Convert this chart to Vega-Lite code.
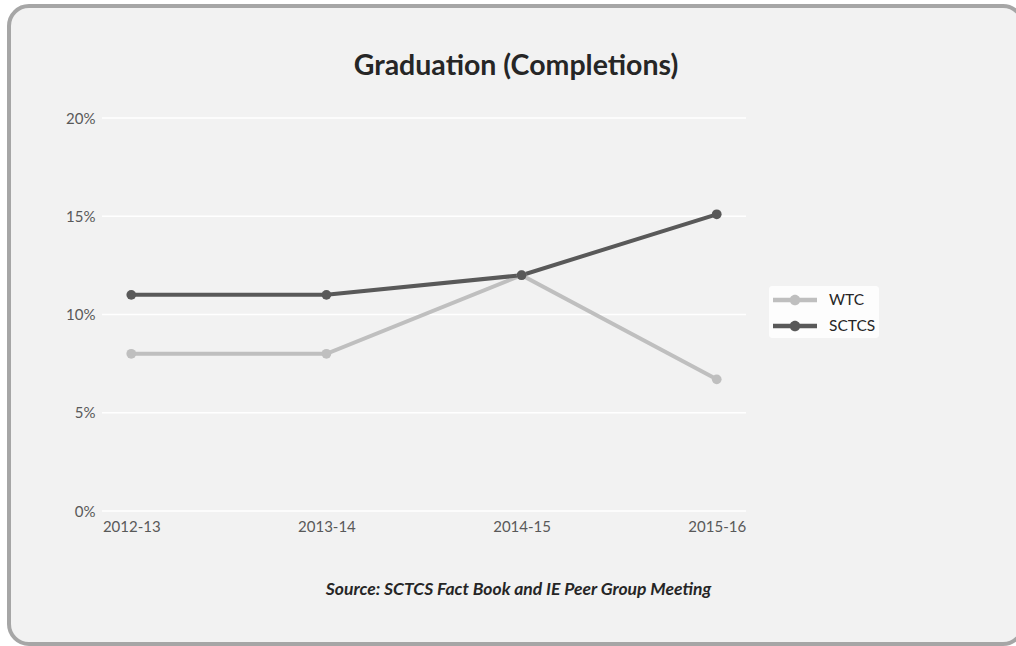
{
  "$schema": "https://vega.github.io/schema/vega-lite/v6.json",
  "width": 644,
  "height": 393,
  "autosize": "none",
  "padding": {"left": 102, "top": 118, "right": 270, "bottom": 135},
  "background": "white",
  "title": {
    "text": "Graduation (Completions)",
    "anchor": "middle",
    "frame": "group",
    "dx": 92,
    "dy": 99,
    "baseline": "alphabetic",
    "offset": 0,
    "font": "Lato",
    "fontSize": 28.5,
    "fontWeight": "bold",
    "color": "#262626",
    "zindex": 1
  },
  "config": {
    "view": {"stroke": null},
    "font": "Lato"
  },
  "layer": [
    {
      "data": {"values": [{}]},
      "mark": {"type": "rect", "fill": "#f2f2f2", "stroke": "#a6a6a6", "strokeWidth": 4, "cornerRadius": 20},
      "encoding": {
        "x": {"value": -93},
        "x2": {"value": 921},
        "y": {"value": -112},
        "y2": {"value": 526}
      }
    },
    {
      "data": {"values": [{"tick": 0}, {"tick": 0.05}, {"tick": 0.1}, {"tick": 0.15}, {"tick": 0.2}]},
      "mark": {"type": "rule", "color": "white", "strokeWidth": 1.5},
      "encoding": {
        "y": {
          "field": "tick",
          "type": "quantitative",
          "scale": {"domain": [0, 0.2]},
          "axis": {
            "values": [0, 0.05, 0.1, 0.15, 0.2],
            "format": ".0%",
            "domain": false,
            "ticks": false,
            "grid": false,
            "zindex": 1,
            "labelPadding": 7,
            "labelFontSize": 15,
            "labelColor": "#595959",
            "labelFont": "Lato",
            "title": null
          }
        }
      }
    },
    {
      "data": {
        "values": [
          {"year": "2012-13", "group": "WTC", "rate": 0.08},
          {"year": "2013-14", "group": "WTC", "rate": 0.08},
          {"year": "2014-15", "group": "WTC", "rate": 0.12},
          {"year": "2015-16", "group": "WTC", "rate": 0.067},
          {"year": "2012-13", "group": "SCTCS", "rate": 0.11},
          {"year": "2013-14", "group": "SCTCS", "rate": 0.11},
          {"year": "2014-15", "group": "SCTCS", "rate": 0.12},
          {"year": "2015-16", "group": "SCTCS", "rate": 0.151}
        ]
      },
      "encoding": {
        "x": {
          "field": "year",
          "type": "ordinal",
          "scale": {"type": "point", "padding": 0.15},
          "axis": {
            "labelAngle": 0,
            "domain": false,
            "ticks": false,
            "grid": false,
            "zindex": 1,
            "labelPadding": 8,
            "labelFontSize": 15,
            "labelColor": "#595959",
            "labelFont": "Lato",
            "title": "Source: SCTCS Fact Book and IE Peer Group Meeting",
            "titleFont": "Lato",
            "titleFontSize": 17.5,
            "titleFontWeight": "bold",
            "titleFontStyle": "italic",
            "titleColor": "#262626",
            "titleAnchor": "start",
            "titleAlign": "center",
            "titleX": 416,
            "titleY": 78,
            "titleBaseline": "middle"
          }
        },
        "y": {
          "field": "rate",
          "type": "quantitative",
          "scale": {"domain": [0, 0.2]},
          "axis": {
            "values": [0, 0.05, 0.1, 0.15, 0.2],
            "format": ".0%",
            "domain": false,
            "ticks": false,
            "grid": false,
            "zindex": 1,
            "labelPadding": 7,
            "labelFontSize": 15,
            "labelColor": "#595959",
            "labelFont": "Lato",
            "title": null
          }
        },
        "color": {
          "field": "group",
          "type": "nominal",
          "scale": {"domain": ["WTC", "SCTCS"], "range": ["#bfbfbf", "#595959"]},
          "legend": {
            "title": null,
            "orient": "none",
            "legendX": 667,
            "legendY": 168,
            "zindex": 1,
            "fillColor": "#fdfdfd",
            "cornerRadius": 3,
            "padding": 3,
            "rowPadding": 6,
            "symbolType": "M-2,-0.2 L2,-0.2 L2,0.2 L-2,0.2 Z M-0.48,0 A0.48,0.48 0 1,1 0.48,0 A0.48,0.48 0 1,1 -0.48,0 Z",
            "symbolSize": 484,
            "symbolOffset": 12,
            "symbolStrokeWidth": 0,
            "symbolOpacity": 1,
            "labelFont": "Lato",
            "labelFontSize": 15.5,
            "labelColor": "#262626",
            "labelOffset": 23
          }
        }
      },
      "layer": [
        {
          "mark": {"type": "line", "strokeWidth": 4}
        },
        {
          "mark": {"type": "point", "filled": true, "size": 95, "opacity": 1}
        }
      ]
    }
  ]
}
